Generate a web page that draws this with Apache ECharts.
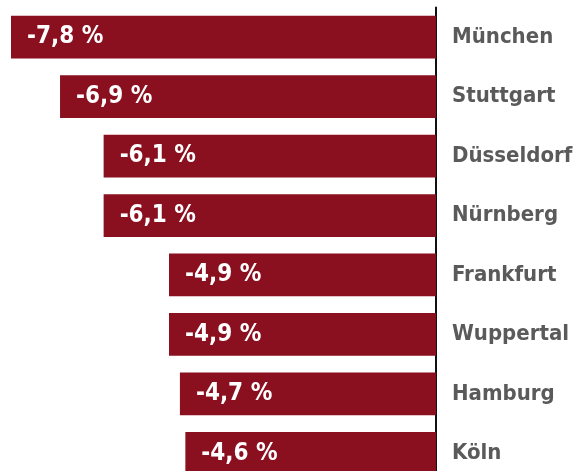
<!DOCTYPE html>
<html>
<head>
<meta charset="utf-8">
<script src="https://cdn.jsdelivr.net/npm/echarts@6/dist/echarts.min.js"></script>
<style>
  html, body { margin: 0; padding: 0; background: #fff; }
  #chart { width: 580px; height: 471px; }
</style>
</head>
<body>
<div id="chart"></div>
<script>
const cities = ['München', 'Stuttgart', 'Düsseldorf', 'Nürnberg', 'Frankfurt', 'Wuppertal', 'Hamburg', 'Köln']
const changes = [-7.8, -6.9, -6.1, -6.1, -4.9, -4.9, -4.7, -4.6]

const font = '"Liberation Sans Narrow", "DejaVu Sans Condensed", sans-serif'

const chart = echarts.init(document.getElementById('chart'))

chart.setOption({
  animation: false,
  grid: { left: 11, right: 144, top: 7.5, bottom: -12, containLabel: false, outerBoundsMode: 'none' },
  xAxis: {
    type: 'value',
    min: -7.8,
    max: 0,
    show: false,
  },
  yAxis: {
    type: 'category',
    data: cities,
    inverse: true,
    position: 'right',
    axisLine: { show: true, lineStyle: { color: '#111', width: 2 } },
    axisTick: { show: false },
    axisLabel: {
      margin: 16,
      color: '#5a5a5a',
      fontFamily: font,
      fontWeight: 'bold',
      fontSize: 22,
    },
  },
  series: [
    {
      type: 'bar',
      data: changes,
      barCategoryGap: '28%',
      itemStyle: { color: '#8a0f1f' },
      label: {
        show: true,
        position: 'insideLeft',
        distance: 16,
        color: '#fff',
        fontFamily: font,
        fontWeight: 'bold',
        fontSize: 24,
        formatter: (p) => p.value.toFixed(1).replace('.', ',') + ' %',
      },
    },
  ],
})
</script>
</body>
</html>
